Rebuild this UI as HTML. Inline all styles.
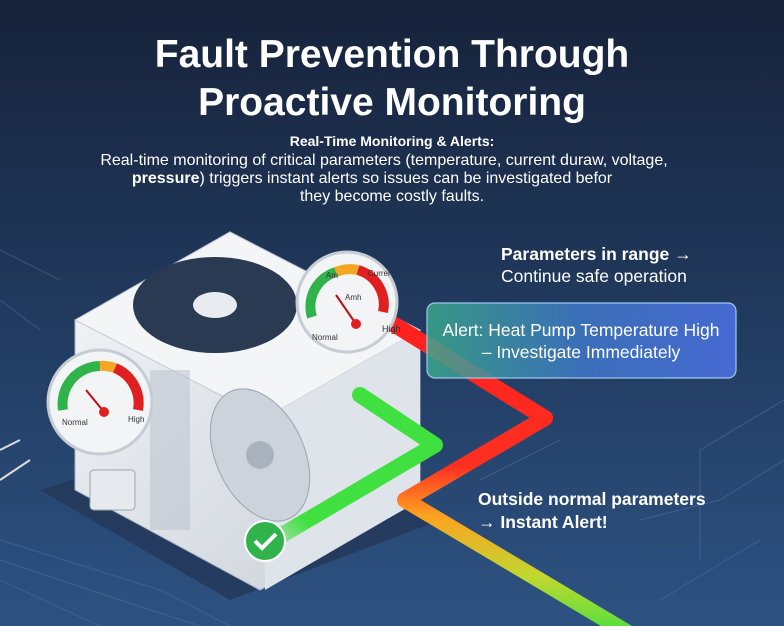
<!DOCTYPE html>
<html><head><meta charset="utf-8"><style>
body{margin:0;width:784px;height:626px;overflow:hidden;font-family:"Liberation Sans",sans-serif;}
</style></head><body>
<svg width="784" height="626" viewBox="0 0 784 626" xmlns="http://www.w3.org/2000/svg">
<defs>
<linearGradient id="bg" x1="0" y1="0" x2="0" y2="1">
<stop offset="0" stop-color="#17223a"/><stop offset="0.5" stop-color="#213a5e"/><stop offset="1" stop-color="#2d5282"/></linearGradient>
<linearGradient id="alert" x1="0" y1="0" x2="1" y2="0">
<stop offset="0" stop-color="#3aa88a" stop-opacity="0.85"/><stop offset="0.5" stop-color="#3f78c8" stop-opacity="0.85"/><stop offset="1" stop-color="#4a6ee0" stop-opacity="0.9"/></linearGradient>
<linearGradient id="rp" x1="0" y1="0" x2="0" y2="1">
<stop offset="0" stop-color="#ff2020"/><stop offset="0.45" stop-color="#ff3020"/><stop offset="0.6" stop-color="#ffa020"/><stop offset="0.8" stop-color="#c0d830"/><stop offset="1" stop-color="#40e040"/></linearGradient>
<linearGradient id="gp" x1="1" y1="0" x2="0" y2="1">
<stop offset="0" stop-color="#40e040"/><stop offset="0.8" stop-color="#40e040"/><stop offset="1" stop-color="#40e040" stop-opacity="0.2"/></linearGradient>
<linearGradient id="box" x1="0" y1="0" x2="1" y2="1"><stop offset="0" stop-color="#f4f6f8"/><stop offset="1" stop-color="#c9d0d8"/></linearGradient>
</defs>
<rect width="784" height="626" fill="url(#bg)"/>
<g stroke="#4a6f9e" stroke-width="1.2" fill="none" opacity="0.5">
<path d="M0 560 L120 600 L200 626"/><path d="M0 580 L100 626"/><path d="M0 540 L160 590 L230 626"/>
<path d="M784 400 L700 450 L700 560"/><path d="M784 460 L720 500 L640 520"/><path d="M660 600 L760 540"/>
<path d="M0 250 L60 280"/><path d="M0 300 L40 330"/><path d="M560 440 L480 480"/>
</g>
<path d="M20 440 L0 450 M30 460 L0 480" stroke="#ddd" stroke-width="2" fill="none"/>
<polygon points="40,490 260,420 440,520 230,600" fill="#233a5c" opacity="0.9"/>
<polygon points="75,320 230,232 420,330 420,500 260,590 75,490" fill="url(#box)" stroke="#aab4c0"/>
<polygon points="75,320 230,232 420,330 265,418" fill="#f3f5f7" stroke="#c2cad3"/>
<polygon points="265,418 420,330 420,500 265,590" fill="#dfe4ea"/>
<ellipse cx="215" cy="305" rx="82" ry="48" fill="#2a3a52"/>
<ellipse cx="215" cy="305" rx="22" ry="13" fill="#e8ecf0"/>
<ellipse cx="260" cy="455" rx="44" ry="70" transform="rotate(-25 260 455)" fill="#ccd3da" stroke="#9aa4b0"/>
<circle cx="260" cy="455" r="14" fill="#aab3bd"/>
<g fill="#b8c0ca"><rect x="150" y="370" width="40" height="160" opacity="0.5"/></g>
<rect x="90" y="470" width="45" height="40" rx="4" fill="#e6eaee" stroke="#9aa4b0"/>
<g fill="none" stroke-linejoin="round" stroke-linecap="round">
<path d="M395 325 L545 418 L405 500 L640 640" stroke="url(#rp)" stroke-width="16"/>
<path d="M360 395 L435 445 L265 545" stroke="url(#gp)" stroke-width="16"/>
</g>
<circle cx="265" cy="541" r="20" fill="#2fb34a" stroke="#fff" stroke-width="2"/>
<path d="M255 541 L262 548 L276 534" stroke="#fff" stroke-width="4" fill="none"/>
<circle cx="347" cy="302" r="50" fill="#f2f4f6" stroke="#c5ccd4" stroke-width="3"/>
<path d="M312 317 A36 36 0 0 1 336 272" stroke="#2fb34a" stroke-width="10" fill="none"/>
<path d="M336 272 A36 36 0 0 1 358 270" stroke="#f5a623" stroke-width="10" fill="none"/>
<path d="M358 270 A36 36 0 0 1 383 312" stroke="#e02020" stroke-width="10" fill="none"/>
<line x1="336" y1="295" x2="356" y2="324" stroke="#c01010" stroke-width="2"/><circle cx="356" cy="324" r="5" fill="#e02020"/>
<text x="326" y="278" font-size="8" fill="#333">Am</text><text x="368" y="276" font-size="8" fill="#333">Current</text>
<text x="345" y="300" font-size="8" fill="#333">Amh</text><text x="312" y="340" font-size="8" fill="#333">Normal</text><text x="382" y="332" font-size="9" fill="#333">High</text>
<circle cx="100" cy="402" r="52" fill="#f2f4f6" stroke="#c5ccd4" stroke-width="3"/>
<path d="M63 410 A38 38 0 0 1 100 366" stroke="#2fb34a" stroke-width="10" fill="none"/>
<path d="M100 366 A38 38 0 0 1 115 368" stroke="#f5a623" stroke-width="10" fill="none"/>
<path d="M115 368 A38 38 0 0 1 138 410" stroke="#e02020" stroke-width="10" fill="none"/>
<line x1="86" y1="390" x2="104" y2="412" stroke="#c01010" stroke-width="2"/><circle cx="104" cy="412" r="5" fill="#e02020"/>
<text x="62" y="425" font-size="8" fill="#333">Normal</text><text x="128" y="422" font-size="8" fill="#333">High</text>
<rect x="427" y="303" width="309" height="75" rx="8" fill="url(#alert)" stroke="#9cc8f0" stroke-width="1.2"/>
<text x="581" y="336" font-size="17.5" fill="#fff" text-anchor="middle">Alert: Heat Pump Temperature High</text>
<text x="581" y="358" font-size="17.5" fill="#fff" text-anchor="middle">– Investigate Immediately</text>
<g fill="#fff" text-anchor="middle" font-weight="bold">
<text x="392" y="67" font-size="39">Fault Prevention Through</text>
<text x="392" y="115" font-size="39">Proactive Monitoring</text>
<text x="392" y="146" font-size="14">Real-Time Monitoring &amp; Alerts:</text>
</g>
<g fill="#fff" text-anchor="middle" font-size="16">
<text x="384" y="165">Real-time monitoring of critical parameters (temperature, current duraw, voltage,</text>
<text x="372" y="183"><tspan font-weight="bold">pressure</tspan>) triggers instant alerts so issues can be investigated befor</text>
<text x="392" y="201">they become costly faults.</text>
</g>
<g fill="#fff" font-size="17.5">
<text x="501" y="260" font-weight="bold">Parameters in range →</text>
<text x="501" y="282">Continue safe operation</text>
<text x="478" y="505" font-weight="bold">Outside normal parameters</text>
<text x="478" y="528" font-weight="bold">→ Instant Alert!</text>
</g>
</svg>
</body></html>
